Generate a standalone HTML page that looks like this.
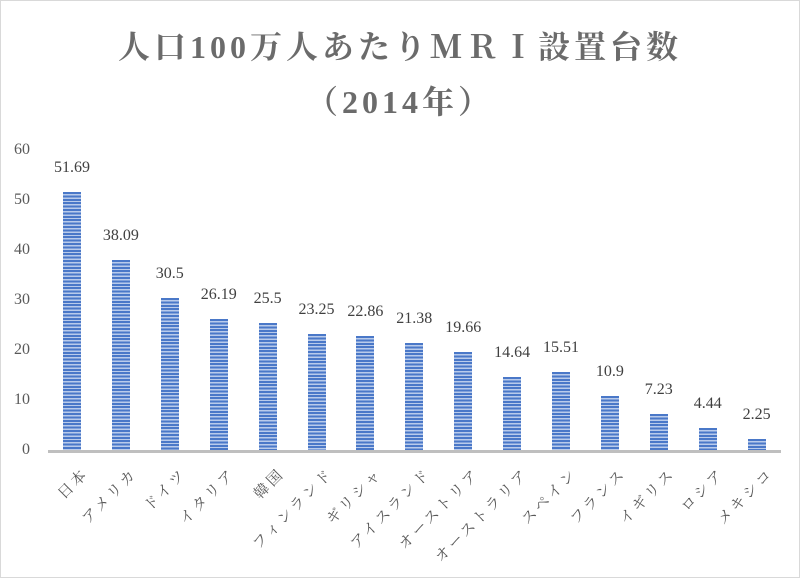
<!DOCTYPE html>
<html><head><meta charset="utf-8"><style>
body{margin:0;background:#fff;}
#c{position:relative;width:798px;height:576px;border:1px solid #d9d9d9;overflow:hidden;font-family:"Liberation Serif","Noto Serif CJK SC",serif;color:#595959;}
.t{position:absolute;left:0;width:798px;text-align:center;font-size:32px;font-weight:bold;letter-spacing:4px;color:#6b6b6b;}
.y{position:absolute;left:0;width:29px;text-align:right;font-size:16px;}
.b{position:absolute;width:18px;background:repeating-linear-gradient(to bottom,#4a78c8 0,#4a78c8 2px,#b9cbeb 2px,#b9cbeb 3.4px);}
.v{position:absolute;width:60px;text-align:center;font-size:16px;color:#404040;}
.l{position:absolute;font-size:15px;letter-spacing:3px;white-space:nowrap;transform-origin:100% 0;transform:rotate(-45deg);font-family:"Liberation Serif","Noto Serif CJK SC",serif;color:#595959;}
</style></head><body><div id="c">
<div class="t" style="top:21px">人口100万人あたりＭＲＩ設置台数</div>
<div class="t" style="top:76px">（2014年）</div>
<div class="y" style="top:140px">60</div>
<div class="y" style="top:190px">50</div>
<div class="y" style="top:240px">40</div>
<div class="y" style="top:290px">30</div>
<div class="y" style="top:340px">20</div>
<div class="y" style="top:390px">10</div>
<div class="y" style="top:440px">0</div>
<div style="position:absolute;left:47px;top:449px;width:733px;height:3px;background:#bfbfbf"></div>
<div id="bars"></div>
</div>
<script>
var d=[["日本",51.69],["アメリカ",38.09],["ドイツ",30.5],["イタリア",26.19],["韓国",25.5],["フィンランド",23.25],["ギリシャ",22.86],["アイスランド",21.38],["オーストリア",19.66],["オーストラリア",14.64],["スペイン",15.51],["フランス",10.9],["イギリス",7.23],["ロシア",4.44],["メキシコ",2.25]];
var c=document.getElementById('c'),h='';
d.forEach(function(e,i){var x=71+i*48.9,hh=e[1]*5;
h+='<div class="b" style="left:'+(x-9)+'px;top:'+(449-hh)+'px;height:'+hh+'px"></div>';
h+='<div class="v" style="left:'+(x-30)+'px;top:'+(449-hh-33)+'px">'+e[1]+'</div>';
h+='<div class="l" style="right:'+(798-x-6)+'px;top:462px">'+e[0]+'</div>';});
c.insertAdjacentHTML('beforeend',h);
</script>
</body></html>
